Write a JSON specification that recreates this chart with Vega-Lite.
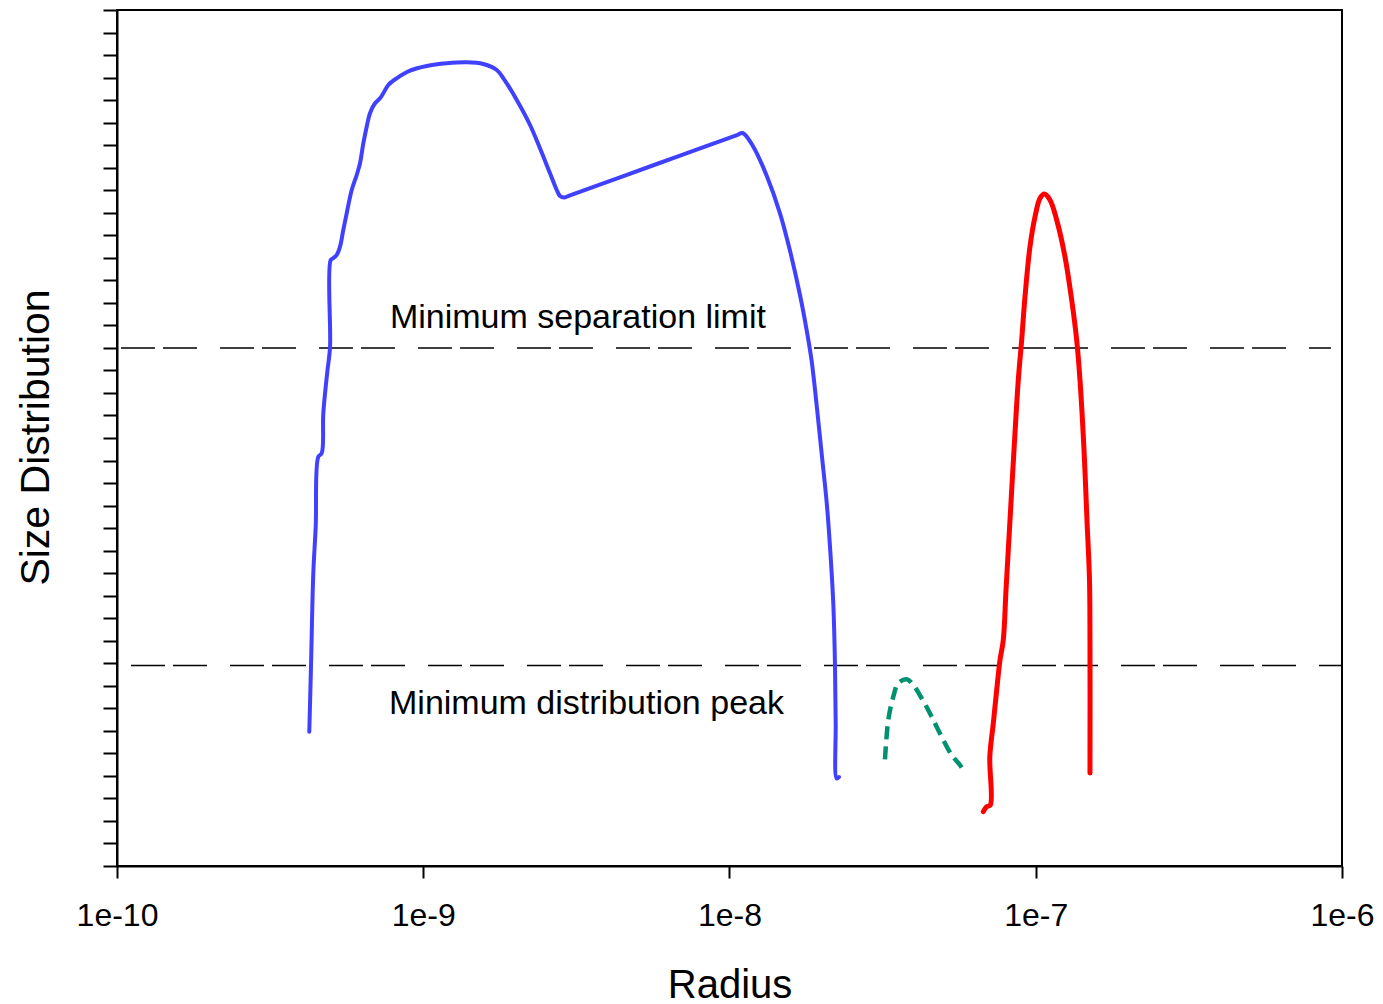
{
  "$schema": "https://vega.github.io/schema/vega-lite/v6.json",
  "autosize": {"type": "none"},
  "padding": {"left": 117, "top": 10, "right": 41, "bottom": 138},
  "width": 1225,
  "height": 856,
  "config": {
    "font": "Liberation Sans",
    "view": {"stroke": "black", "strokeWidth": 2},
    "axis": {"grid": false, "domainColor": "black", "domainWidth": 2, "tickColor": "black", "tickWidth": 2}
  },
  "datasets": {
    "curves": [
      {"s": "blue", "i": 1, "x": 4.245e-10, "y": 5.962},
      {"s": "blue", "i": 2, "x": 4.300e-10, "y": 8.879},
      {"s": "blue", "i": 3, "x": 4.375e-10, "y": 12.994},
      {"s": "blue", "i": 4, "x": 4.455e-10, "y": 15.063},
      {"s": "blue", "i": 5, "x": 4.543e-10, "y": 18.170},
      {"s": "blue", "i": 6, "x": 4.661e-10, "y": 18.321},
      {"s": "blue", "i": 7, "x": 4.717e-10, "y": 20.097},
      {"s": "blue", "i": 8, "x": 4.861e-10, "y": 21.944},
      {"s": "blue", "i": 9, "x": 4.961e-10, "y": 23.009},
      {"s": "blue", "i": 10, "x": 4.987e-10, "y": 26.902},
      {"s": "blue", "i": 11, "x": 5.093e-10, "y": 26.991},
      {"s": "blue", "i": 12, "x": 5.217e-10, "y": 27.124},
      {"s": "blue", "i": 13, "x": 5.348e-10, "y": 27.493},
      {"s": "blue", "i": 14, "x": 5.481e-10, "y": 28.234},
      {"s": "blue", "i": 15, "x": 5.623e-10, "y": 28.975},
      {"s": "blue", "i": 16, "x": 5.840e-10, "y": 30.010},
      {"s": "blue", "i": 17, "x": 6.064e-10, "y": 30.676},
      {"s": "blue", "i": 18, "x": 6.216e-10, "y": 31.195},
      {"s": "blue", "i": 19, "x": 6.372e-10, "y": 32.083},
      {"s": "blue", "i": 20, "x": 6.536e-10, "y": 32.820},
      {"s": "blue", "i": 21, "x": 6.701e-10, "y": 33.415},
      {"s": "blue", "i": 22, "x": 6.957e-10, "y": 33.859},
      {"s": "blue", "i": 23, "x": 7.224e-10, "y": 34.081},
      {"s": "blue", "i": 24, "x": 7.406e-10, "y": 34.303},
      {"s": "blue", "i": 25, "x": 7.689e-10, "y": 34.671},
      {"s": "blue", "i": 26, "x": 8.188e-10, "y": 34.968},
      {"s": "blue", "i": 27, "x": 9.050e-10, "y": 35.306},
      {"s": "blue", "i": 28, "x": 1.0263e-9, "y": 35.515},
      {"s": "blue", "i": 29, "x": 1.1931e-9, "y": 35.634},
      {"s": "blue", "i": 30, "x": 1.3869e-9, "y": 35.679},
      {"s": "blue", "i": 31, "x": 1.5709e-9, "y": 35.603},
      {"s": "blue", "i": 32, "x": 1.7378e-9, "y": 35.337},
      {"s": "blue", "i": 33, "x": 1.8265e-9, "y": 34.968},
      {"s": "blue", "i": 34, "x": 2.0198e-9, "y": 34.005},
      {"s": "blue", "i": 35, "x": 2.2323e-9, "y": 32.895},
      {"s": "blue", "i": 36, "x": 2.4051e-9, "y": 31.861},
      {"s": "blue", "i": 37, "x": 2.5937e-9, "y": 30.751},
      {"s": "blue", "i": 38, "x": 2.7280e-9, "y": 30.010},
      {"s": "blue", "i": 39, "x": 2.7960e-9, "y": 29.743},
      {"s": "blue", "i": 40, "x": 2.8817e-9, "y": 29.677},
      {"s": "blue", "i": 41, "x": 3.0146e-9, "y": 29.773},
      {"s": "blue", "i": 42, "x": 4.390e-9, "y": 30.574},
      {"s": "blue", "i": 43, "x": 6.895e-9, "y": 31.536},
      {"s": "blue", "i": 44, "x": 1.0581e-8, "y": 32.449},
      {"s": "blue", "i": 45, "x": 1.1042e-8, "y": 32.540},
      {"s": "blue", "i": 46, "x": 1.1959e-8, "y": 31.932},
      {"s": "blue", "i": 47, "x": 1.3228e-8, "y": 30.640},
      {"s": "blue", "i": 48, "x": 1.4617e-8, "y": 28.975},
      {"s": "blue", "i": 49, "x": 1.5763e-8, "y": 27.306},
      {"s": "blue", "i": 50, "x": 1.6989e-8, "y": 25.349},
      {"s": "blue", "i": 51, "x": 1.7868e-8, "y": 23.781},
      {"s": "blue", "i": 52, "x": 1.8551e-8, "y": 22.410},
      {"s": "blue", "i": 53, "x": 1.9261e-8, "y": 20.448},
      {"s": "blue", "i": 54, "x": 2.0001e-8, "y": 18.290},
      {"s": "blue", "i": 55, "x": 2.0766e-8, "y": 16.137},
      {"s": "blue", "i": 56, "x": 2.1289e-8, "y": 14.175},
      {"s": "blue", "i": 57, "x": 2.1824e-8, "y": 11.631},
      {"s": "blue", "i": 58, "x": 2.2102e-8, "y": 8.923},
      {"s": "blue", "i": 59, "x": 2.2219e-8, "y": 6.335},
      {"s": "blue", "i": 60, "x": 2.2389e-8, "y": 3.884},
      {"s": "blue", "i": 61, "x": 2.2779e-8, "y": 3.951},
      {"s": "green", "i": 1, "x": 3.2187e-8, "y": 4.737},
      {"s": "green", "i": 2, "x": 3.3001e-8, "y": 6.481},
      {"s": "green", "i": 3, "x": 3.4263e-8, "y": 7.516},
      {"s": "green", "i": 4, "x": 3.5571e-8, "y": 8.111},
      {"s": "green", "i": 5, "x": 3.7900e-8, "y": 8.288},
      {"s": "green", "i": 6, "x": 3.9829e-8, "y": 8.035},
      {"s": "green", "i": 7, "x": 4.2437e-8, "y": 7.445},
      {"s": "green", "i": 8, "x": 4.5725e-8, "y": 6.628},
      {"s": "green", "i": 9, "x": 4.9293e-8, "y": 5.740},
      {"s": "green", "i": 10, "x": 5.3144e-8, "y": 4.928},
      {"s": "green", "i": 11, "x": 5.6567e-8, "y": 4.484},
      {"s": "green", "i": 12, "x": 5.7288e-8, "y": 4.373},
      {"s": "red", "i": 1, "x": 6.7438e-8, "y": 2.411},
      {"s": "red", "i": 2, "x": 6.9166e-8, "y": 2.633},
      {"s": "red", "i": 3, "x": 7.1071e-8, "y": 2.708},
      {"s": "red", "i": 4, "x": 7.0795e-8, "y": 4.852},
      {"s": "red", "i": 5, "x": 7.2679e-8, "y": 6.335},
      {"s": "red", "i": 6, "x": 7.4556e-8, "y": 7.813},
      {"s": "red", "i": 7, "x": 7.6433e-8, "y": 9.145},
      {"s": "red", "i": 8, "x": 7.8343e-8, "y": 10.033},
      {"s": "red", "i": 9, "x": 7.9966e-8, "y": 12.253},
      {"s": "red", "i": 10, "x": 8.2397e-8, "y": 15.360},
      {"s": "red", "i": 11, "x": 8.4918e-8, "y": 18.468},
      {"s": "red", "i": 12, "x": 8.7700e-8, "y": 21.575},
      {"s": "red", "i": 13, "x": 8.9968e-8, "y": 23.351},
      {"s": "red", "i": 14, "x": 9.2232e-8, "y": 25.273},
      {"s": "red", "i": 15, "x": 9.5754e-8, "y": 27.493},
      {"s": "red", "i": 16, "x": 9.9449e-8, "y": 28.824},
      {"s": "red", "i": 17, "x": 1.0325e-7, "y": 29.641},
      {"s": "red", "i": 18, "x": 1.0664e-7, "y": 29.832},
      {"s": "red", "i": 19, "x": 1.1131e-7, "y": 29.566},
      {"s": "red", "i": 20, "x": 1.1706e-7, "y": 28.678},
      {"s": "red", "i": 21, "x": 1.2458e-7, "y": 27.049},
      {"s": "red", "i": 22, "x": 1.3103e-7, "y": 25.126},
      {"s": "red", "i": 23, "x": 1.3604e-7, "y": 23.351},
      {"s": "red", "i": 24, "x": 1.3946e-7, "y": 21.575},
      {"s": "red", "i": 25, "x": 1.4374e-7, "y": 18.468},
      {"s": "red", "i": 26, "x": 1.4698e-7, "y": 15.360},
      {"s": "red", "i": 27, "x": 1.4979e-7, "y": 12.696},
      {"s": "red", "i": 28, "x": 1.5034e-7, "y": 10.033},
      {"s": "red", "i": 29, "x": 1.5034e-7, "y": 4.129}
    ],
    "guides": [
      {"g": "separation", "x": 1.0305e-10, "y": 23.0},
      {"g": "separation", "x": 9.206e-7, "y": 23.0},
      {"g": "peak", "x": 1.111e-10, "y": 8.9},
      {"g": "peak", "x": 1e-6, "y": 8.9}
    ],
    "notes": [
      {"label": "Minimum separation limit", "x": 3.2e-9, "y": 23.87},
      {"label": "Minimum distribution peak", "x": 3.412e-9, "y": 6.75}
    ]
  },
  "layer": [
    {
      "data": {"name": "guides"},
      "mark": {"type": "line", "color": "black", "strokeWidth": 1.5, "strokeDash": [34, 8, 34, 23], "clip": true},
      "encoding": {
        "x": {
          "field": "x", "type": "quantitative",
          "scale": {"type": "log", "domain": [1e-10, 1e-6], "nice": false},
          "axis": {
            "values": [1e-10, 1e-9, 1e-8, 1e-7, 1e-6],
            "labelExpr": "'1e' + round(log(datum.value) / LN10)",
            "labelFontSize": 32, "labelColor": "black", "labelBaseline": "alphabetic", "labelPadding": 47,
            "labelFlush": false, "labelOverlap": false,
            "tickSize": 12,
            "title": "Radius", "titleFontSize": 40, "titleFontWeight": "normal", "titleColor": "black",
            "titleBaseline": "alphabetic", "titleY": 131
          }
        },
        "y": {
          "field": "y", "type": "quantitative",
          "scale": {"domain": [0, 38], "nice": false, "zero": false},
          "axis": {
            "tickCount": 38,
            "labels": false, "tickSize": 14,
            "title": "Size Distribution", "titleFontSize": 41, "titleFontWeight": "normal", "titleColor": "black",
            "titleAngle": -90, "titleAlign": "center", "titleBaseline": "alphabetic", "titleX": -69, "titleY": 427
          }
        },
        "detail": {"field": "g"}
      }
    },
    {
      "data": {"name": "curves"},
      "transform": [{"filter": "datum.s === 'blue'"}],
      "mark": {"type": "line", "color": "#4040FF", "strokeWidth": 4, "strokeCap": "round", "strokeJoin": "round", "interpolate": "catmull-rom"},
      "encoding": {
        "x": {"field": "x", "type": "quantitative"},
        "y": {"field": "y", "type": "quantitative"},
        "order": {"field": "i"}
      }
    },
    {
      "data": {"name": "curves"},
      "transform": [{"filter": "datum.s === 'green'"}],
      "mark": {"type": "line", "color": "#00916E", "strokeWidth": 4.5, "strokeDash": [13, 7], "strokeJoin": "round", "interpolate": "catmull-rom"},
      "encoding": {
        "x": {"field": "x", "type": "quantitative"},
        "y": {"field": "y", "type": "quantitative"},
        "order": {"field": "i"}
      }
    },
    {
      "data": {"name": "curves"},
      "transform": [{"filter": "datum.s === 'red'"}],
      "mark": {"type": "line", "color": "#FF0000", "strokeWidth": 5, "strokeCap": "round", "strokeJoin": "round", "interpolate": "catmull-rom"},
      "encoding": {
        "x": {"field": "x", "type": "quantitative"},
        "y": {"field": "y", "type": "quantitative"},
        "order": {"field": "i"}
      }
    },
    {
      "data": {"name": "notes"},
      "mark": {"type": "text", "fontSize": 34, "color": "black", "align": "center", "baseline": "alphabetic"},
      "encoding": {
        "x": {"field": "x", "type": "quantitative"},
        "y": {"field": "y", "type": "quantitative"},
        "text": {"field": "label"}
      }
    }
  ]
}
